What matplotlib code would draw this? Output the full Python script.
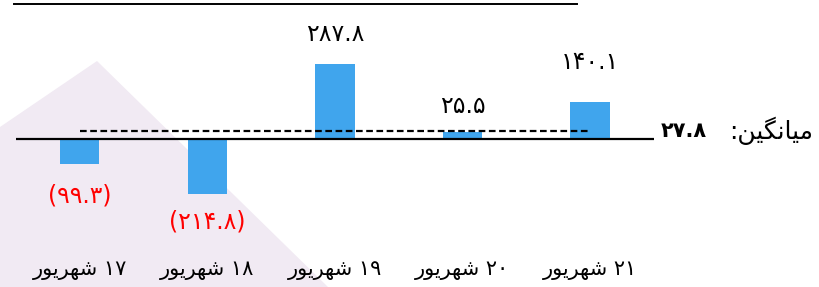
import matplotlib
matplotlib.use("Agg")
import matplotlib.pyplot as plt
from matplotlib.lines import Line2D
from matplotlib.patches import Polygon

# ---------------- data ----------------
categories = ["۱۷ شهریور", "۱۸ شهریور", "۱۹ شهریور", "۲۰ شهریور", "۲۱ شهریور"]
values = [-99.3, -214.8, 287.8, 25.5, 140.1]
mean_value = 27.8
mean_label = "میانگین:"

# label offsets from bar end (pixels) -- style only
label_offsets_px = [31.5, 27.7, 30, 26, 40]

# ---------------- simple Persian shaping ----------------
# forms: (isolated, final, initial, medial); None => letter does not join forward
FORMS = {
    "ا": ("\uFE8D", "\uFE8E", None, None),
    "ر": ("\uFEAD", "\uFEAE", None, None),
    "و": ("\uFEED", "\uFEEE", None, None),
    "ش": ("\uFEB5", "\uFEB6", "\uFEB7", "\uFEB8"),
    "ه": ("\uFEE9", "\uFEEA", "\uFEEB", "\uFEEC"),
    "ی": ("\uFBFC", "\uFBFD", "\uFEF3", "\uFEF4"),
    "م": ("\uFEE1", "\uFEE2", "\uFEE3", "\uFEE4"),
    "ن": ("\uFEE5", "\uFEE6", "\uFEE7", "\uFEE8"),
    "گ": ("\uFB92", "\uFB93", "\uFB94", "\uFB95"),
}


def joins_forward(ch):
    return ch in FORMS and FORMS[ch][2] is not None


def shape_word(word):
    out = []
    n = len(word)
    for i, ch in enumerate(word):
        if ch not in FORMS:
            out.append(ch)
            continue
        prev_join = i > 0 and joins_forward(word[i - 1])
        next_join = (i < n - 1 and word[i + 1] in FORMS and joins_forward(ch))
        iso, fin, ini, med = FORMS[ch]
        if prev_join and next_join:
            out.append(med)
        elif prev_join:
            out.append(fin)
        elif next_join:
            out.append(ini)
        else:
            out.append(iso)
    return "".join(out)


def is_arabic(tok):
    return any(c in FORMS for c in tok)


def visual(text):
    toks = text.split(" ")
    res = []
    for t in reversed(toks):
        if is_arabic(t):
            res.append(shape_word(t)[::-1])
        else:
            res.append(t)
    return " ".join(res)


PDIG = str.maketrans("0123456789", "۰۱۲۳۴۵۶۷۸۹")


def fmt(v):
    s = f"{abs(v):.1f}".translate(PDIG)
    return f"({s})" if v < 0 else s


# ---------------- figure ----------------
W, H = 819, 287
fig = plt.figure(figsize=(W / 100, H / 100), dpi=100)
fig.patch.set_facecolor("white")

# watermark shape (background decoration)
wm = Polygon([(0 / W, 1 - 127 / H), (97 / W, 1 - 61 / H), (328 / W, 0), (0, 0)],
             closed=True, transform=fig.transFigure, facecolor="#f1eaf3",
             edgecolor="none", zorder=-5)
fig.patches.append(wm)

ax = fig.add_axes([0, 0, 1, 1])
ax.set_zorder(1)
ax.set_facecolor("none")
ax.axis("off")

x0_px, step_px = 79.7, 127.6
zero_px, scale = 138.5, 0.2584
ax.set_xlim(-x0_px / step_px, (W - x0_px) / step_px)
ax.set_ylim(-(H - zero_px) / scale, zero_px / scale)

xs = list(range(len(values)))
bar_color = "#40a5ed"
ax.bar(xs, values, width=0.31, color=bar_color, zorder=2)

# zero line
ax.plot([-0.5, len(values) - 0.5], [0, 0], color="black", lw=1.6, zorder=3,
        solid_capstyle="butt")
# mean dashed line
ax.plot([xs[0], xs[-1]], [mean_value, mean_value], color="black", lw=1.6,
        linestyle=(0, (3.0, 1.6)), zorder=4)

# top rule
fig.add_artist(Line2D([14 / W, 577 / W], [1 - 4 / H, 1 - 4 / H],
                      color="black", lw=1.4))

# value labels
for x, v, off in zip(xs, values, label_offsets_px):
    dy = off * 72 / 100
    if v >= 0:
        ax.annotate(fmt(v), (x, v), xytext=(0, dy), textcoords="offset points",
                    ha="center", va="center", fontsize=17, color="black",
                    family="DejaVu Sans")
    else:
        ax.annotate(fmt(v), (x, v), xytext=(0, -dy), textcoords="offset points",
                    ha="center", va="center", fontsize=17, color="#ff0000",
                    family="DejaVu Sans")

# category labels
for x, c in zip(xs, categories):
    ax.text(x, 1 - 270 / H, visual(c), transform=ax.get_xaxis_transform(),
            ha="center", va="center", fontsize=15, family="DejaVu Sans")

# mean label
ax.text((661 - x0_px) / step_px, mean_value, fmt(mean_value), ha="left",
        va="center", fontsize=15, fontweight="bold", family="DejaVu Sans")
ax.text((813 - x0_px) / step_px, mean_value, visual(mean_label), ha="right",
        va="center", fontsize=18, family="DejaVu Sans")

fig.savefig("out.png", dpi=100, facecolor="white")
